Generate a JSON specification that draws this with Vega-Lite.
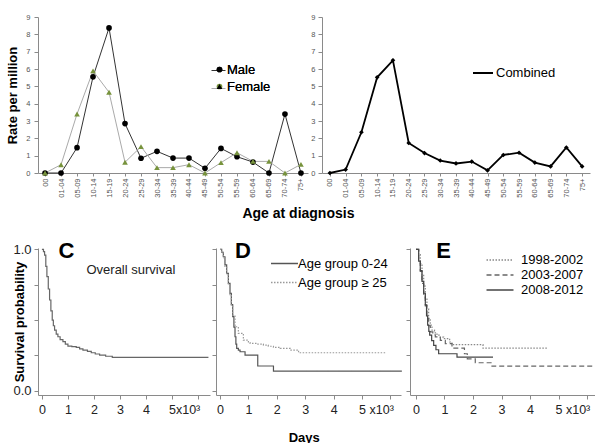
{
  "$schema": "https://vega.github.io/schema/vega-lite/v6.json",
  "padding": {"left": 6, "top": 13, "right": 0, "bottom": 0},
  "config": {
    "font": "Liberation Sans",
    "view": {"stroke": null},
    "axis": {"grid": false, "domainColor": "#8a8a8a", "tickColor": "#8a8a8a", "labelColor": "#333", "titleColor": "#000", "titleFontWeight": "bold", "labelOverlap": false},
    "legend": {"labelColor": "#000", "labelFontSize": 13},
    "title": {"font": "Liberation Sans", "color": "#000"}
  },
  "datasets": {
    "rates": [
      {"age":"00","sex":"Male","rate":0},{"age":"01-04","sex":"Male","rate":0},{"age":"05-09","sex":"Male","rate":1.46},{"age":"10-14","sex":"Male","rate":5.55},{"age":"15-19","sex":"Male","rate":8.37},{"age":"20-24","sex":"Male","rate":2.85},{"age":"25-29","sex":"Male","rate":0.85},{"age":"30-34","sex":"Male","rate":1.25},{"age":"35-39","sex":"Male","rate":0.86},{"age":"40-44","sex":"Male","rate":0.86},{"age":"45-49","sex":"Male","rate":0.27},{"age":"50-54","sex":"Male","rate":1.42},{"age":"55-59","sex":"Male","rate":0.94},{"age":"60-64","sex":"Male","rate":0.63},{"age":"65-69","sex":"Male","rate":0},{"age":"70-74","sex":"Male","rate":3.4},{"age":"75+","sex":"Male","rate":0},
      {"age":"00","sex":"Female","rate":0},{"age":"01-04","sex":"Female","rate":0.48},{"age":"05-09","sex":"Female","rate":3.4},{"age":"10-14","sex":"Female","rate":5.89},{"age":"15-19","sex":"Female","rate":4.66},{"age":"20-24","sex":"Female","rate":0.62},{"age":"25-29","sex":"Female","rate":1.52},{"age":"30-34","sex":"Female","rate":0.31},{"age":"35-39","sex":"Female","rate":0.31},{"age":"40-44","sex":"Female","rate":0.48},{"age":"45-49","sex":"Female","rate":0},{"age":"50-54","sex":"Female","rate":0.6},{"age":"55-59","sex":"Female","rate":1.17},{"age":"60-64","sex":"Female","rate":0.67},{"age":"65-69","sex":"Female","rate":0.67},{"age":"70-74","sex":"Female","rate":0},{"age":"75+","sex":"Female","rate":0.5},
      {"age":"00","sex":"Combined","rate":0},{"age":"01-04","sex":"Combined","rate":0.2},{"age":"05-09","sex":"Combined","rate":2.35},{"age":"10-14","sex":"Combined","rate":5.52},{"age":"15-19","sex":"Combined","rate":6.5},{"age":"20-24","sex":"Combined","rate":1.73},{"age":"25-29","sex":"Combined","rate":1.15},{"age":"30-34","sex":"Combined","rate":0.72},{"age":"35-39","sex":"Combined","rate":0.55},{"age":"40-44","sex":"Combined","rate":0.66},{"age":"45-49","sex":"Combined","rate":0.15},{"age":"50-54","sex":"Combined","rate":1.04},{"age":"55-59","sex":"Combined","rate":1.17},{"age":"60-64","sex":"Combined","rate":0.6},{"age":"65-69","sex":"Combined","rate":0.38},{"age":"70-74","sex":"Combined","rate":1.47},{"age":"75+","sex":"Combined","rate":0.38}
    ],
    "surv": [
      {"panel":"C","group":"Overall","day":0,"surv":1},{"panel":"C","group":"Overall","day":60,"surv":0.985},{"panel":"C","group":"Overall","day":103,"surv":0.96},{"panel":"C","group":"Overall","day":150,"surv":0.88},{"panel":"C","group":"Overall","day":192,"surv":0.807},{"panel":"C","group":"Overall","day":245,"surv":0.72},{"panel":"C","group":"Overall","day":295,"surv":0.642},{"panel":"C","group":"Overall","day":345,"surv":0.565},{"panel":"C","group":"Overall","day":397,"surv":0.5},{"panel":"C","group":"Overall","day":440,"surv":0.46},{"panel":"C","group":"Overall","day":487,"surv":0.429},{"panel":"C","group":"Overall","day":550,"surv":0.4},{"panel":"C","group":"Overall","day":615,"surv":0.382},{"panel":"C","group":"Overall","day":700,"surv":0.362},{"panel":"C","group":"Overall","day":808,"surv":0.347},{"panel":"C","group":"Overall","day":900,"surv":0.33},{"panel":"C","group":"Overall","day":1000,"surv":0.316},{"panel":"C","group":"Overall","day":1150,"surv":0.312},{"panel":"C","group":"Overall","day":1320,"surv":0.307},{"panel":"C","group":"Overall","day":1450,"surv":0.297},{"panel":"C","group":"Overall","day":1577,"surv":0.288},{"panel":"C","group":"Overall","day":1750,"surv":0.278},{"panel":"C","group":"Overall","day":1897,"surv":0.269},{"panel":"C","group":"Overall","day":2050,"surv":0.26},{"panel":"C","group":"Overall","day":2218,"surv":0.252},{"panel":"C","group":"Overall","day":2450,"surv":0.244},{"panel":"C","group":"Overall","day":2705,"surv":0.236},{"panel":"C","group":"Overall","day":6400,"surv":0.236},
      {"panel":"D","group":"Age group 0-24","day":0,"surv":1},{"panel":"D","group":"Age group 0-24","day":60,"surv":0.98},{"panel":"D","group":"Age group 0-24","day":118,"surv":0.948},{"panel":"D","group":"Age group 0-24","day":175,"surv":0.89},{"panel":"D","group":"Age group 0-24","day":235,"surv":0.83},{"panel":"D","group":"Age group 0-24","day":295,"surv":0.76},{"panel":"D","group":"Age group 0-24","day":353,"surv":0.689},{"panel":"D","group":"Age group 0-24","day":400,"surv":0.61},{"panel":"D","group":"Age group 0-24","day":447,"surv":0.524},{"panel":"D","group":"Age group 0-24","day":490,"surv":0.45},{"panel":"D","group":"Age group 0-24","day":529,"surv":0.382},{"panel":"D","group":"Age group 0-24","day":560,"surv":0.33},{"panel":"D","group":"Age group 0-24","day":588,"surv":0.3},{"panel":"D","group":"Age group 0-24","day":647,"surv":0.288},{"panel":"D","group":"Age group 0-24","day":706,"surv":0.276},{"panel":"D","group":"Age group 0-24","day":882,"surv":0.252},{"panel":"D","group":"Age group 0-24","day":1329,"surv":0.175},{"panel":"D","group":"Age group 0-24","day":1882,"surv":0.139},{"panel":"D","group":"Age group 0-24","day":6400,"surv":0.139},
      {"panel":"D","group":"Age group ≥ 25","day":0,"surv":1},{"panel":"D","group":"Age group ≥ 25","day":60,"surv":0.975},{"panel":"D","group":"Age group ≥ 25","day":118,"surv":0.94},{"panel":"D","group":"Age group ≥ 25","day":175,"surv":0.88},{"panel":"D","group":"Age group ≥ 25","day":235,"surv":0.82},{"panel":"D","group":"Age group ≥ 25","day":295,"surv":0.75},{"panel":"D","group":"Age group ≥ 25","day":353,"surv":0.68},{"panel":"D","group":"Age group ≥ 25","day":400,"surv":0.6},{"panel":"D","group":"Age group ≥ 25","day":447,"surv":0.535},{"panel":"D","group":"Age group ≥ 25","day":529,"surv":0.453},{"panel":"D","group":"Age group ≥ 25","day":647,"surv":0.406},{"panel":"D","group":"Age group ≥ 25","day":823,"surv":0.358},{"panel":"D","group":"Age group ≥ 25","day":1000,"surv":0.34},{"panel":"D","group":"Age group ≥ 25","day":1059,"surv":0.335},{"panel":"D","group":"Age group ≥ 25","day":1294,"surv":0.33},{"panel":"D","group":"Age group ≥ 25","day":1529,"surv":0.323},{"panel":"D","group":"Age group ≥ 25","day":1700,"surv":0.315},{"panel":"D","group":"Age group ≥ 25","day":1882,"surv":0.307},{"panel":"D","group":"Age group ≥ 25","day":2118,"surv":0.3},{"panel":"D","group":"Age group ≥ 25","day":2470,"surv":0.288},{"panel":"D","group":"Age group ≥ 25","day":2765,"surv":0.269},{"panel":"D","group":"Age group ≥ 25","day":5824,"surv":0.269},
      {"panel":"E","group":"1998-2002","day":0,"surv":1},{"panel":"E","group":"1998-2002","day":94,"surv":0.964},{"panel":"E","group":"1998-2002","day":150,"surv":0.9},{"panel":"E","group":"1998-2002","day":211,"surv":0.821},{"panel":"E","group":"1998-2002","day":270,"surv":0.74},{"panel":"E","group":"1998-2002","day":327,"surv":0.655},{"panel":"E","group":"1998-2002","day":385,"surv":0.58},{"panel":"E","group":"1998-2002","day":444,"surv":0.512},{"panel":"E","group":"1998-2002","day":500,"surv":0.465},{"panel":"E","group":"1998-2002","day":561,"surv":0.429},{"panel":"E","group":"1998-2002","day":650,"surv":0.41},{"panel":"E","group":"1998-2002","day":737,"surv":0.393},{"panel":"E","group":"1998-2002","day":850,"surv":0.38},{"panel":"E","group":"1998-2002","day":971,"surv":0.369},{"panel":"E","group":"1998-2002","day":1181,"surv":0.345},{"panel":"E","group":"1998-2002","day":1263,"surv":0.326},{"panel":"E","group":"1998-2002","day":2351,"surv":0.302},{"panel":"E","group":"1998-2002","day":4620,"surv":0.302},
      {"panel":"E","group":"2003-2007","day":0,"surv":1},{"panel":"E","group":"2003-2007","day":94,"surv":0.93},{"panel":"E","group":"2003-2007","day":152,"surv":0.845},{"panel":"E","group":"2003-2007","day":210,"surv":0.76},{"panel":"E","group":"2003-2007","day":269,"surv":0.679},{"panel":"E","group":"2003-2007","day":327,"surv":0.6},{"panel":"E","group":"2003-2007","day":386,"surv":0.512},{"panel":"E","group":"2003-2007","day":445,"surv":0.46},{"panel":"E","group":"2003-2007","day":503,"surv":0.417},{"panel":"E","group":"2003-2007","day":590,"surv":0.395},{"panel":"E","group":"2003-2007","day":678,"surv":0.381},{"panel":"E","group":"2003-2007","day":854,"surv":0.357},{"panel":"E","group":"2003-2007","day":1029,"surv":0.333},{"panel":"E","group":"2003-2007","day":1263,"surv":0.302},{"panel":"E","group":"2003-2007","day":1700,"surv":0.262},{"panel":"E","group":"2003-2007","day":1800,"surv":0.226},{"panel":"E","group":"2003-2007","day":2080,"surv":0.198},{"panel":"E","group":"2003-2007","day":2667,"surv":0.174},{"panel":"E","group":"2003-2007","day":6211,"surv":0.174},
      {"panel":"E","group":"2008-2012","day":0,"surv":1},{"panel":"E","group":"2008-2012","day":94,"surv":0.917},{"panel":"E","group":"2008-2012","day":150,"surv":0.85},{"panel":"E","group":"2008-2012","day":211,"surv":0.774},{"panel":"E","group":"2008-2012","day":270,"surv":0.69},{"panel":"E","group":"2008-2012","day":327,"surv":0.607},{"panel":"E","group":"2008-2012","day":370,"surv":0.53},{"panel":"E","group":"2008-2012","day":409,"surv":0.464},{"panel":"E","group":"2008-2012","day":450,"surv":0.42},{"panel":"E","group":"2008-2012","day":480,"surv":0.393},{"panel":"E","group":"2008-2012","day":550,"surv":0.355},{"panel":"E","group":"2008-2012","day":620,"surv":0.321},{"panel":"E","group":"2008-2012","day":700,"surv":0.29},{"panel":"E","group":"2008-2012","day":795,"surv":0.262},{"panel":"E","group":"2008-2012","day":1439,"surv":0.238},{"panel":"E","group":"2008-2012","day":2702,"surv":0.238}
    ]
  },
  "spacing": 17,
  "resolve": {"scale": {"color": "independent", "stroke": "independent", "shape": "independent", "strokeDash": "independent"}},
  "vconcat": [
    {
      "spacing": 2,
      "resolve": {"scale": {"color": "independent", "stroke": "independent", "shape": "independent", "strokeDash": "independent"}},
      "title": {"text": "Age at diagnosis", "orient": "bottom", "anchor": "middle", "fontSize": 14, "fontWeight": "bold", "offset": 10},
      "hconcat": [
        {
          "width": 270, "height": 156,
          "data": {"name": "rates"},
          "encoding": {
            "x": {"field": "age", "type": "ordinal", "sort": ["00","01-04","05-09","10-14","15-19","20-24","25-29","30-34","35-39","40-44","45-49","50-54","55-59","60-64","65-69","70-74","75+"], "scale": {"type": "point", "padding": 0.44}, "axis": {"title": null, "labelAngle": -90, "labelFontSize": 7.5, "labelColor": "#555", "tickSize": 3, "labelPadding": 2}},
            "y": {"field": "rate", "type": "quantitative", "scale": {"domain": [0, 9], "nice": false}, "axis": {"title": "Rate per million", "values": [0,1,2,3,4,5,6,7,8,9], "tickCount": 20, "format": "d", "labelFontSize": 7.5, "labelColor": "#555", "tickSize": 4, "labelPadding": 4, "titleFontSize": 13, "titlePadding": 6}}
          },
          "layer": [
            {
              "transform": [{"filter": "datum.sex != 'Combined'"}],
              "mark": {"type": "line", "strokeWidth": 1},
              "encoding": {"stroke": {"field": "sex", "type": "nominal", "scale": {"domain": ["Male", "Female"], "range": ["#333333", "#aaaaaa"]}, "legend": {"orient": "none", "legendX": 173, "legendY": 46, "title": null, "symbolType": "stroke", "symbolSize": 196, "symbolStrokeWidth": 1, "labelExpr": "''", "rowPadding": 3}}}
            },
            {
              "transform": [{"filter": "datum.sex != 'Combined'"}],
              "mark": {"type": "point", "filled": true, "opacity": 1, "size": 32},
              "encoding": {
                "color": {"field": "sex", "type": "nominal", "sort": ["Male", "Female"], "scale": {"range": ["#000000", "#77933c"]}, "legend": {"orient": "none", "legendX": 175, "legendY": 46, "title": null, "symbolSize": 32, "labelOffset": 1, "rowPadding": 3}},
                "shape": {"field": "sex", "type": "nominal", "sort": ["Male", "Female"], "scale": {"range": ["circle", "triangle-up"]}, "legend": {"orient": "none", "legendX": 175, "legendY": 46, "title": null, "symbolSize": 32, "labelOffset": 1, "rowPadding": 3}}
              }
            },
            {
              "data": {"values": [{"panel": "A"}]},
              "mark": {"type": "text", "text": "A", "fontSize": 26, "fontWeight": "bold", "baseline": "middle"},
              "encoding": {"x": {"datum": "01-04", "type": "ordinal"}, "y": {"datum": 8.16}}
            }
          ]
        },
        {
          "width": 268, "height": 156,
          "data": {"name": "rates"},
          "encoding": {
            "x": {"field": "age", "type": "ordinal", "sort": ["00","01-04","05-09","10-14","15-19","20-24","25-29","30-34","35-39","40-44","45-49","50-54","55-59","60-64","65-69","70-74","75+"], "scale": {"type": "point", "padding": 0.5}, "axis": {"title": null, "labelAngle": -90, "labelFontSize": 7.5, "labelColor": "#555", "tickSize": 3, "labelPadding": 2}},
            "y": {"field": "rate", "type": "quantitative", "scale": {"domain": [0, 9], "nice": false}, "axis": {"title": null, "values": [0,1,2,3,4,5,6,7,8,9], "tickCount": 20, "format": "d", "labelFontSize": 7.5, "labelColor": "#555", "tickSize": 4, "labelPadding": 3}}
          },
          "layer": [
            {
              "transform": [{"filter": "datum.sex == 'Combined'"}],
              "mark": {"type": "line", "strokeWidth": 1.8},
              "encoding": {"stroke": {"field": "sex", "type": "nominal", "scale": {"range": ["#000000"]}, "legend": {"orient": "none", "legendX": 150, "legendY": 45, "title": null, "symbolType": "stroke", "symbolSize": 400, "symbolStrokeWidth": 2, "labelOffset": 2}}}
            },
            {
              "transform": [{"filter": "datum.sex == 'Combined'"}],
              "mark": {"type": "point", "shape": "diamond", "filled": true, "opacity": 1, "size": 22, "color": "#000000"}
            },
            {
              "data": {"values": [{"panel": "B"}]},
              "mark": {"type": "text", "text": "B", "fontSize": 26, "fontWeight": "bold", "baseline": "middle", "dx": 7},
              "encoding": {"x": {"datum": "01-04", "type": "ordinal"}, "y": {"datum": 8.16}}
            }
          ]
        }
      ]
    },
    {
      "spacing": 0,
      "resolve": {"scale": {"color": "independent", "stroke": "independent", "shape": "independent", "strokeDash": "independent"}},
      "title": {"text": "Days", "orient": "bottom", "anchor": "middle", "fontSize": 13, "fontWeight": "bold", "offset": 16},
      "hconcat": [
        {
          "width": 172, "height": 147,
          "layer": [
            {
              "data": {"name": "surv"},
              "transform": [{"filter": "datum.panel == 'C'"}],
              "mark": {"type": "line", "interpolate": "step-after", "strokeWidth": 1.2, "color": "#666666"},
              "encoding": {
                "x": {"field": "day", "type": "quantitative", "scale": {"domain": [-150, 6460], "nice": false, "zero": false}, "axis": {"title": null, "values": [0,1000,2000,3000,4000,5000,6000], "tickCount": 20, "labelOverlap": false, "labelAlign": "left", "labelOffset": -3.5, "labelExpr": "datum.value == 5000 ? '5x10³' : datum.value == 6000 ? '' : format(datum.value / 1000, 'd')", "labelFontSize": 12.5, "labelColor": "#222", "tickSize": 4, "labelPadding": 4}},
                "y": {"field": "surv", "type": "quantitative", "scale": {"domain": [-0.03, 1.01], "nice": false, "zero": false}, "axis": {"title": "Survival probability", "values": [0, 0.25, 0.5, 0.75, 1], "tickCount": 20, "labelOverlap": false, "labelExpr": "datum.value == 0 ? '0.0' : datum.value == 1 ? '1.0' : ''", "labelFontSize": 13, "labelColor": "#222", "tickSize": 4, "labelPadding": 3, "titleFontSize": 13, "titlePadding": -14}}
              }
            },
            {
              "data": {"values": [{"panel": "C"}]},
              "mark": {"type": "text", "text": "C", "fontSize": 22, "fontWeight": "bold", "baseline": "middle"},
              "encoding": {"x": {"datum": 940}, "y": {"datum": 0.99}}
            },
            {
              "data": {"values": [{"panel": "C"}]},
              "mark": {"type": "text", "text": "Overall survival", "fontSize": 13, "color": "#222", "baseline": "middle"},
              "encoding": {"x": {"datum": 3420}, "y": {"datum": 0.854}}
            }
          ]
        },
        {
          "width": 185, "height": 147,
          "layer": [
            {
              "data": {"name": "surv"},
              "transform": [{"filter": "datum.panel == 'D'"}],
              "mark": {"type": "line", "interpolate": "step-after", "strokeWidth": 1.2},
              "encoding": {
                "x": {"field": "day", "type": "quantitative", "scale": {"domain": [-140, 6370], "nice": false, "zero": false}, "axis": {"title": null, "values": [0,1000,2000,3000,4000,5000,6000], "tickCount": 20, "labelOverlap": false, "labelAlign": "left", "labelOffset": -3.5, "labelExpr": "datum.value == 5000 ? '5 x10³' : datum.value == 6000 ? '' : format(datum.value / 1000, 'd')", "labelFontSize": 12.5, "labelColor": "#222", "tickSize": 4, "labelPadding": 4}},
                "y": {"field": "surv", "type": "quantitative", "scale": {"domain": [-0.03, 1.01], "nice": false, "zero": false}, "axis": {"title": null, "values": [0, 0.25, 0.5, 0.75, 1], "tickCount": 20, "labels": false, "tickSize": 4}},
                "stroke": {"field": "group", "type": "nominal", "scale": {"domain": ["Age group 0-24", "Age group ≥ 25"], "range": ["#555555", "#999999"]}, "legend": {"orient": "none", "legendX": 61, "legendY": 8, "title": null, "symbolType": "M-2,0H2", "symbolSize": 182, "symbolStrokeWidth": 1.3, "labelOffset": 6, "rowPadding": 4}},
                "strokeDash": {"field": "group", "type": "nominal", "scale": {"domain": ["Age group 0-24", "Age group ≥ 25"], "range": [[1, 0], [1.5, 1.5]]}, "legend": {"orient": "none", "legendX": 61, "legendY": 8, "title": null, "symbolType": "M-2,0H2", "symbolSize": 182, "symbolStrokeWidth": 1.3, "labelOffset": 6, "rowPadding": 4}}
              }
            },
            {
              "data": {"values": [{"panel": "D"}]},
              "mark": {"type": "text", "text": "D", "fontSize": 22, "fontWeight": "bold", "baseline": "middle"},
              "encoding": {"x": {"datum": 810}, "y": {"datum": 0.99}}
            }
          ]
        },
        {
          "width": 185, "height": 147,
          "layer": [
            {
              "data": {"name": "surv"},
              "transform": [{"filter": "datum.panel == 'E'"}],
              "mark": {"type": "line", "interpolate": "step-after", "strokeWidth": 1.2},
              "encoding": {
                "x": {"field": "day", "type": "quantitative", "scale": {"domain": [-210, 6280], "nice": false, "zero": false}, "axis": {"title": null, "values": [0,1000,2000,3000,4000,5000,6000], "tickCount": 20, "labelOverlap": false, "labelAlign": "left", "labelOffset": -3.5, "labelExpr": "datum.value == 5000 ? '5 x10³' : datum.value == 6000 ? '' : format(datum.value / 1000, 'd')", "labelFontSize": 12.5, "labelColor": "#222", "tickSize": 4, "labelPadding": 4}},
                "y": {"field": "surv", "type": "quantitative", "scale": {"domain": [-0.03, 1.01], "nice": false, "zero": false}, "axis": {"title": null, "values": [0, 0.25, 0.5, 0.75, 1], "tickCount": 20, "labels": false, "tickSize": 4}},
                "stroke": {"field": "group", "type": "nominal", "scale": {"domain": ["1998-2002", "2003-2007", "2008-2012"], "range": ["#888888", "#666666", "#444444"]}, "legend": {"orient": "none", "legendX": 82, "legendY": 4, "title": null, "symbolType": "M-2,0H2", "symbolSize": 182, "symbolStrokeWidth": 1.6, "labelOffset": 13, "rowPadding": 0}},
                "strokeDash": {"field": "group", "type": "nominal", "scale": {"domain": ["1998-2002", "2003-2007", "2008-2012"], "range": [[1.5, 1.5], [5, 3], [1, 0]]}, "legend": {"orient": "none", "legendX": 82, "legendY": 4, "title": null, "symbolType": "M-2,0H2", "symbolSize": 182, "symbolStrokeWidth": 1.6, "labelOffset": 13, "rowPadding": 0}}
              }
            },
            {
              "data": {"values": [{"panel": "E"}]},
              "mark": {"type": "text", "text": "E", "fontSize": 22, "fontWeight": "bold", "baseline": "middle"},
              "encoding": {"x": {"datum": 965}, "y": {"datum": 0.99}}
            }
          ]
        }
      ]
    }
  ]
}
